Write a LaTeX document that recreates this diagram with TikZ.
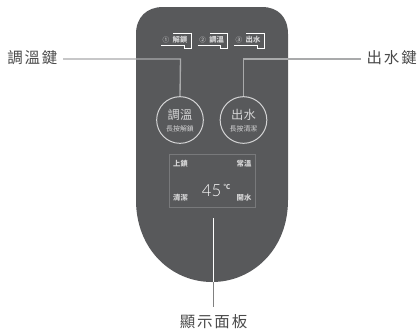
\documentclass[tikz,border=0pt]{standalone}
\usepackage{fontspec}
\newfontfamily\cjk{Noto Sans CJK TC}
\newfontfamily\cjksp[LetterSpace=12]{Noto Sans CJK TC}
\newfontfamily\digits{Lato Light}
\definecolor{body}{HTML}{58595B}
\definecolor{leader}{HTML}{A9AAAB}
\definecolor{labeltext}{HTML}{4A4A4A}
\definecolor{soft}{HTML}{D4D4D5}
\definecolor{panelline}{HTML}{78797B}
\tikzset{
  x=0.75pt,y=-0.75pt,
  outerlabel/.style={font=\cjksp\fontsize{11.6}{13}\selectfont,text=labeltext,inner sep=0pt},
  tinylabel/.style={font=\cjk\fontsize{5.2}{6}\selectfont,text=soft,inner sep=0pt},
  panellabel/.style={font=\cjk\bfseries\fontsize{5.5}{6}\selectfont,text=soft,inner sep=0pt},
  tablabel/.style={font=\cjk\bfseries\fontsize{5.5}{6}\selectfont,text=soft,inner sep=0pt},
  btnlabel/.style={font=\cjk\fontsize{9.2}{11}\selectfont,text=soft,inner sep=0pt},
  roundbtn/.style={circle,draw=soft,line width=0.75pt,minimum size=35pt,inner sep=0pt},
  tabline/.style={draw=white,line width=0.6pt},
  leaderline/.style={draw=leader,line width=1pt},
}
\begin{document}
\begin{tikzpicture}
\useasboundingbox (0,0) rectangle (418,330);
\fill[white] (0,0) rectangle (418,330);
\fill[body] (136,200) -- (136,34) .. controls (136,17) and (147,7) .. (163,7)
  -- (262,7) .. controls (278,7) and (288,17) .. (288,34) -- (288,200)
  .. controls (288,250) and (252,282) .. (212,282) .. controls (172,282) and (136,250) .. (136,200) -- cycle;
% buttons
\node[roundbtn] (b1) at (180,120) {};
\node[roundbtn] (b2) at (243.5,120) {};
\node[btnlabel] (b1t) at (180,115) {調溫};
\node[btnlabel] (b2t) at (243.5,115) {出水};
\node[tinylabel] (b1s) at (180,128.5) {長按解鎖};
\node[tinylabel] (b2s) at (243.5,128.5) {長按清潔};
% tabs
\foreach \d/\n/\t in {0/①/解鎖,36.7/②/調溫,73/③/出水}{
  \begin{scope}[xshift=\d*0.75pt]
  \draw[tabline] (161,45) -- (184,45) -- (184,48) -- (191,48) -- (191,33) -- (173,33);
  \node[font=\cjk\fontsize{5}{6}\selectfont,text=soft,inner sep=0pt] at (166,40) {\n};
  \node[tablabel] at (180,39.5) {\t};
  \end{scope}
}
% panel
\node[draw=panelline,line width=0.75pt,fill=body,minimum width=64.5pt,minimum height=39.75pt,inner sep=0pt] (panel) at (212,180.5) {};
\node[panellabel] (p1) at (180.5,163.5) {上鎖};
\node[panellabel] (p2) at (244,163.5) {常溫};
\node[panellabel] (p3) at (180.5,197.5) {清潔};
\node[panellabel] (p4) at (244,197.5) {開水};
\node[font=\digits\fontsize{12.5}{14}\selectfont,text=white,inner sep=0pt] (temp) at (211.5,191) {45};
\node[font=\cjk\bfseries\fontsize{5}{5}\selectfont,text=soft,inner sep=0pt] (deg) at (227,187) {℃};
% labels
\node[outerlabel,anchor=west] (l1) at (7,58) {調溫鍵};
\node[outerlabel,anchor=east] (l2) at (417,58) {出水鍵};
\node[outerlabel,anchor=north] (l3) at (213.5,314) {顯示面板};
% connectors
\coordinate (s1) at (63,59);
\coordinate (s2) at (361,59);
\coordinate (s3) at (213.3,218);
\coordinate (s4) at (213.3,282);
\coordinate (s5) at (213.3,307);
\draw[leaderline] (s1) -- (180.5,59) -- (b1.north);
\draw[leaderline] (s2) -- (243.5,59) -- (b2.north);
\draw[draw=white,line width=0.6pt] (s3) -- (s4);
\draw[draw=gray,line width=0.6pt] (s4) -- (s5);
\end{tikzpicture}
\end{document}
